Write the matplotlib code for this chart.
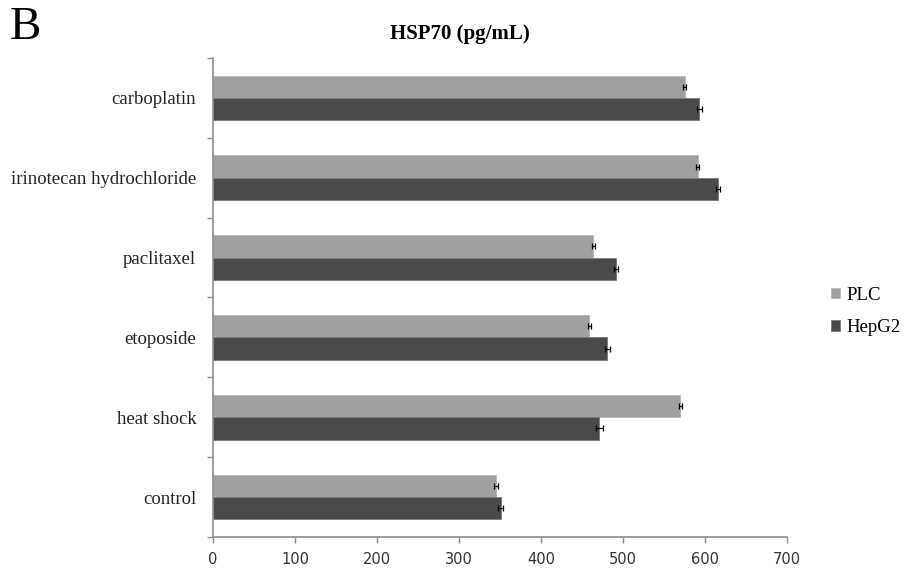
import matplotlib
matplotlib.use("Agg")
import matplotlib.pyplot as plt
import numpy as np

categories = ["control", "heat shock", "etoposide", "paclitaxel",
              "irinotecan hydrochloride", "carboplatin"]
plc = [345, 570, 459, 464, 591, 575]
hepg2 = [351, 471, 481, 492, 616, 593]
plc_err = [2, 2, 2, 2, 2, 2]
hepg2_err = [3, 4, 3, 2.5, 2.5, 3]
xticks = [0, 100, 200, 300, 400, 500, 600, 700]

W, H = 909, 569
fig = plt.figure(figsize=(W / 100, H / 100), dpi=100)
ax = fig.add_axes([213 / W, 1 - 537 / H, (787 - 213) / W, (537 - 58) / H])

y = np.arange(len(categories))
bh = 0.28
serif = ["Liberation Serif", "DejaVu Serif"]

ax.barh(y + bh / 2, plc, height=bh, color="#a0a0a0", edgecolor="#b8b8b8",
        linewidth=0.6, label="PLC", zorder=2)
ax.barh(y - bh / 2, hepg2, height=bh, color="#4a4a4a", edgecolor="#7a7a7a",
        linewidth=0.6, label="HepG2", zorder=2)
ax.errorbar(plc, y + bh / 2, xerr=plc_err, fmt="none", ecolor="black",
            elinewidth=0.9, capsize=2.5, capthick=0.9, zorder=3)
ax.errorbar(hepg2, y - bh / 2, xerr=hepg2_err, fmt="none", ecolor="black",
            elinewidth=0.9, capsize=2.5, capthick=0.9, zorder=3)

ax.set_xlim(0, 700)
ax.set_ylim(-0.5, len(categories) - 0.5)
ax.set_xticks(xticks)
ax.set_xticklabels([str(t) for t in xticks], fontsize=10.5, color="#333333",
                   family=["DejaVu Sans"])

ax.set_yticks(np.arange(len(categories) + 1) - 0.5)
ax.set_yticklabels([])
ax.set_yticks(y, minor=True)
ax.set_yticklabels(categories, minor=True, fontsize=13.5, family=serif,
                   color="#222222")
ax.tick_params(axis="y", which="minor", length=0, pad=12)
ax.tick_params(axis="y", which="major", length=4, color="#8c8c8c", width=1)
ax.tick_params(axis="x", length=4, color="#8c8c8c", width=1, pad=7)

for s in ["top", "right"]:
    ax.spines[s].set_visible(False)
for s in ["left", "bottom"]:
    ax.spines[s].set_color("#8c8c8c")
    ax.spines[s].set_linewidth(1.2)

fig.text(460 / W, 1 - 34 / H, "HSP70 (pg/mL)", ha="center", va="center",
         fontsize=15, fontweight="bold", family=serif)
fig.text(10 / W, 1 - 28 / H, "B", ha="left", va="center", fontsize=34,
         family=serif)

handles, labels = ax.get_legend_handles_labels()
leg = ax.legend(handles, labels, loc="center left",
                bbox_to_anchor=(831 / W, 1 - 311.5 / H),
                bbox_transform=fig.transFigure, frameon=False,
                prop={"family": serif, "size": 13.5},
                handlelength=0.5, handleheight=0.5, handletextpad=0.35,
                labelspacing=0.85, borderpad=0, borderaxespad=0)

fig.savefig("out.png", dpi=100)
